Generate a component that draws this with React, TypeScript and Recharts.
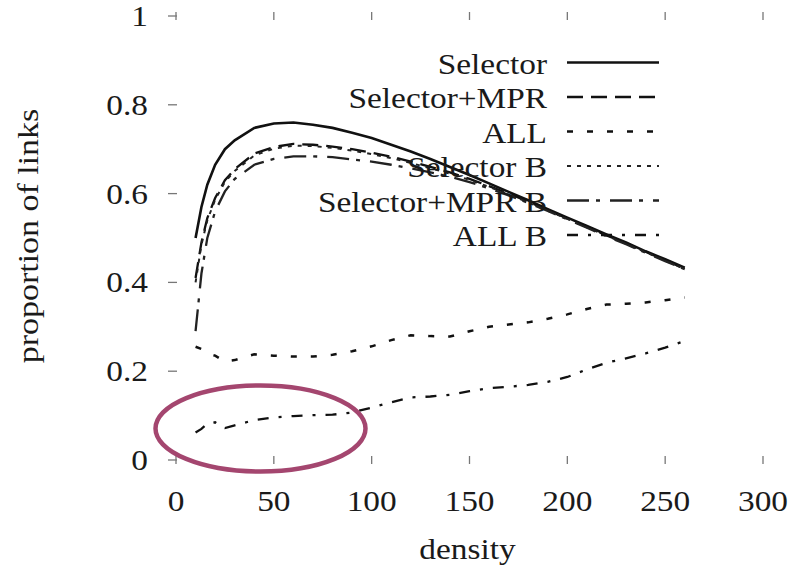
import React from 'react';
import { LineChart, Line, XAxis, YAxis, Legend } from 'recharts';

const density = [10, 13, 16, 20, 25, 30, 40, 50, 60, 70, 80, 90, 100, 110, 120, 130, 140, 150, 160, 170, 180, 190, 200, 210, 220, 230, 240, 250, 260];
const selector = [0.50, 0.57, 0.62, 0.665, 0.70, 0.72, 0.748, 0.758, 0.76, 0.755, 0.748, 0.737, 0.725, 0.71, 0.695, 0.678, 0.66, 0.642, 0.623, 0.604, 0.585, 0.565, 0.546, 0.527, 0.508, 0.49, 0.47, 0.452, 0.433];
const selectorMpr = [0.41, 0.49, 0.545, 0.59, 0.63, 0.655, 0.69, 0.705, 0.712, 0.71, 0.706, 0.70, 0.692, 0.683, 0.672, 0.66, 0.648, 0.633, 0.617, 0.60, 0.582, 0.563, 0.544, 0.525, 0.506, 0.488, 0.469, 0.45, 0.431];
const allLinks = [0.255, 0.25, 0.24, 0.235, 0.222, 0.225, 0.238, 0.235, 0.233, 0.233, 0.237, 0.245, 0.256, 0.27, 0.281, 0.279, 0.278, 0.29, 0.30, 0.305, 0.31, 0.318, 0.328, 0.34, 0.35, 0.352, 0.355, 0.36, 0.366];
const selectorB = [0.40, 0.485, 0.54, 0.586, 0.626, 0.651, 0.686, 0.701, 0.708, 0.707, 0.703, 0.697, 0.689, 0.68, 0.669, 0.657, 0.645, 0.631, 0.615, 0.598, 0.58, 0.561, 0.543, 0.524, 0.505, 0.487, 0.468, 0.449, 0.43];
const selectorMprB = [0.29, 0.42, 0.50, 0.56, 0.605, 0.633, 0.665, 0.678, 0.684, 0.684, 0.682, 0.677, 0.672, 0.665, 0.657, 0.648, 0.638, 0.626, 0.612, 0.596, 0.579, 0.561, 0.542, 0.523, 0.504, 0.486, 0.467, 0.448, 0.43];
const allB = [0.062, 0.07, 0.082, 0.085, 0.072, 0.078, 0.09, 0.096, 0.099, 0.101, 0.102, 0.107, 0.118, 0.13, 0.141, 0.143, 0.147, 0.155, 0.162, 0.165, 0.169, 0.176, 0.187, 0.204, 0.219, 0.229, 0.24, 0.253, 0.268];

const xTicks = [0, 50, 100, 150, 200, 250, 300];
const yTicks = [0, 0.2, 0.4, 0.6, 0.8, 1];
const xTitle = 'density';
const yTitle = 'proportion of links';

const rows = density.map((d, i) => ({
  density: d,
  selector: selector[i],
  selectorMpr: selectorMpr[i],
  allLinks: allLinks[i],
  selectorB: selectorB[i],
  selectorMprB: selectorMprB[i],
  allB: allB[i],
}));

const series = [
  { key: 'selector', name: 'Selector', dash: undefined as string | undefined, width: 2.6, color: '#111' },
  { key: 'selectorMpr', name: 'Selector+MPR', dash: '16 8', width: 2.3, color: '#111' },
  { key: 'allLinks', name: 'ALL', dash: '6 14', width: 2.5, color: '#111' },
  { key: 'selectorB', name: 'Selector B', dash: '4 6', width: 2, color: '#222' },
  { key: 'selectorMprB', name: 'Selector+MPR B', dash: '22 7 4 10', width: 2.3, color: '#222' },
  { key: 'allB', name: 'ALL B', dash: '11 10 3 10', width: 2.3, color: '#111' },
];

const TXT: React.CSSProperties = { fontFamily: 'Liberation Serif', fontSize: 29 };
const SX = 1.15;
const TICK = '#777';
const INK = '#1a1a1a';

const fmtY = (v: number) => (v === 0 ? '0' : v === 1 ? '1' : String(v));

const BottomTick = (p: any) => (
  <g>
    <line x1={p.x} x2={p.x} y1={p.y - 4} y2={p.y + 4} stroke={TICK} strokeWidth={1.3} />
    <text transform={`translate(${p.x},${p.y + 51}) scale(${SX},1)`} textAnchor="middle" style={TXT} fill={INK}>
      {p.payload.value}
    </text>
  </g>
);
const TopTick = (p: any) => (
  <line x1={p.x} x2={p.x} y1={p.y - 4} y2={p.y + 4} stroke={TICK} strokeWidth={1.3} />
);
const LeftTick = (p: any) => (
  <g>
    <line x1={p.x - 8} x2={p.x + 1} y1={p.y} y2={p.y} stroke={TICK} strokeWidth={1.3} />
    <text transform={`translate(${p.x - 28},${p.y + 10}) scale(${SX},1)`} textAnchor="end" style={TXT} fill={INK}>
      {fmtY(p.payload.value)}
    </text>
  </g>
);
const RightTick = (p: any) => (
  <line x1={p.x - 2} x2={p.x + 7} y1={p.y} y2={p.y} stroke={TICK} strokeWidth={1.3} />
);

const XTitle = (p: any) => {
  const vb = p.viewBox || { x: 176, y: 460, width: 587, height: 107 };
  return (
    <text transform={`translate(${vb.x + vb.width / 2 - 2},${vb.y + 99}) scale(${SX},1)`} textAnchor="middle" style={TXT} fill={INK}>
      {xTitle}
    </text>
  );
};
const YTitle = (p: any) => {
  const vb = p.viewBox || { x: 0, y: 16, width: 176, height: 444 };
  return (
    <text transform={`translate(${vb.x + 38},${vb.y + vb.height / 2 - 2}) rotate(-90) scale(1.17,1)`} textAnchor="middle" style={TXT} fill={INK}>
      {yTitle}
    </text>
  );
};

const LegendContent = () => (
  <svg width={792} height={260} style={{ display: 'block' }}>
    {series.map((s, i) => {
      const y = 62.5 + i * 34.5;
      return (
        <g key={s.key}>
          <text transform={`translate(547,${y + 11}) scale(${SX},1)`} textAnchor="end" style={TXT} fill={INK}>
            {s.name}
          </text>
          <line x1={567} x2={659} y1={y} y2={y} stroke={s.color} strokeWidth={s.width} strokeDasharray={s.dash} />
        </g>
      );
    })}
  </svg>
);

export default function App() {
  return (
    <div style={{ position: 'relative', width: 792, height: 567, background: '#fff' }}>
      <style>{'body{margin:0;background:#fff}'}</style>
      <LineChart width={792} height={567} data={rows} margin={{ top: 0, right: 0, bottom: 0, left: 0 }}>
        <XAxis dataKey="density" type="number" domain={[0, 300]} ticks={xTicks} interval={0}
          axisLine={false} tickLine={false} tickSize={0} tickMargin={0} height={107}
          tick={BottomTick} label={{ content: XTitle } as any} />
        <XAxis xAxisId="top" orientation="top" dataKey="density" type="number" domain={[0, 300]} ticks={xTicks} interval={0}
          axisLine={false} tickLine={false} tickSize={0} tickMargin={0} height={16} tick={TopTick} />
        <YAxis type="number" domain={[0, 1]} ticks={yTicks} interval={0}
          axisLine={false} tickLine={false} tickSize={0} tickMargin={0} width={176}
          tick={LeftTick} label={{ content: YTitle } as any} />
        <YAxis yAxisId="right" orientation="right" type="number" domain={[0, 1]} ticks={yTicks} interval={0}
          axisLine={false} tickLine={false} tickSize={0} tickMargin={0} width={29} tick={RightTick} />
        <Legend content={LegendContent} layout="horizontal" verticalAlign="middle" align="center"
          wrapperStyle={{ position: 'absolute', left: 0, top: 0, width: 792, height: 260, margin: 0, pointerEvents: 'none' }} />
        {series.map((s) => (
          <Line key={s.key} dataKey={s.key} name={s.name} type="linear" stroke={s.color}
            strokeWidth={s.width} strokeDasharray={s.dash} dot={false} activeDot={false}
            isAnimationActive={false} />
        ))}
      </LineChart>
      <svg width={792} height={567} style={{ position: 'absolute', left: 0, top: 0, pointerEvents: 'none' }}>
        <ellipse cx={260.5} cy={428.5} rx={105} ry={43} fill="none" stroke="#a4466f" strokeWidth={4.5} />
      </svg>
    </div>
  );
}
